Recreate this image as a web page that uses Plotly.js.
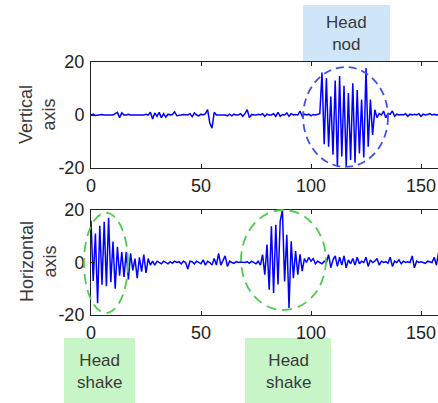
<!DOCTYPE html>
<html>
<head>
<meta charset="utf-8">
<script src="https://cdn.plot.ly/plotly-3.0.1.min.js"></script>
<style>
html,body{margin:0;padding:0;overflow:hidden;background:#fff;width:438px;height:403px;}
#chart{width:470px;height:403px;}
</style>
</head>
<body>
<div id="chart"></div>
<script>
// ---- data ----
var verticalAxis = [
0,0.3,-0.2,0,0,0.2,0,0,0,0,
0,0.5,1,-1,0.8,0,0,0.3,0,0,
0,0.2,0,0,0,0.3,0,1,-1.5,0.8,
-0.5,1,-1,0.5,-0.8,0.3,0,0.2,1.2,-0.3,
0,0,0.2,0,0,0.5,-0.6,0.8,0,-0.3,
0.3,0,0.5,2,-3,-5,1,0,0,0,
0.2,0,-0.3,0.3,-0.3,0.3,0,0,0.5,-0.5,
0.5,2,-1,0.2,0,0,0.3,0,0.5,-0.5,
0.3,0,0,0.5,-0.5,1,-0.5,0.2,0,0.8,
-0.5,0.5,0,0.2,0,1.5,-0.5,0.3,0,0.3,
-0.3,0.2,0,0.3,0.5,16,-11,14,-12,7,
-15,13,-19.5,14.7,-15.7,11,-19.5,8.3,-17,12,
-18,9.4,-14.5,5.8,-16,17.7,-12,5.8,-7.5,2,
-1,0.5,0,1.5,-1,0.5,0.3,1.5,-0.5,0.3,
0,0.2,0,0.5,-0.5,0.3,0,0.3,0,0.5,
-0.5,0.3,0,0.2,0.5,0,0.3,0,0.2,0,
0.3];
var horizontalAxis = [
16,-7,11,-15.5,14,-8.5,15.5,-9,17,-7.5,
8,-10,6,-5,4,-5.5,4,-6.5,3.5,-3,
1.5,-6,2,-3.5,3,-4,1.5,-1,0.5,-1,
0.5,0,-0.5,0.5,0,-0.5,0.3,-0.3,0.5,0,
0.3,-0.5,0.5,0,-2.5,0.5,0.3,-0.5,0.5,0,
-0.5,1,-1,0.5,0,-1,1.5,-1,3.5,-1,
0.5,2.5,-1.5,0.5,0,-0.3,0.3,0,0.2,0,
0,0.3,-0.3,0.5,0,-0.5,0.5,-1,3,-4.6,
6.8,-10.4,13.8,-11.6,14.4,-8.4,15.7,20,-7.2,10.6,
-17.3,8.1,-6,4.4,-4.6,3.1,-3.3,1.5,0,2,
0.5,1.5,-0.5,0.5,0,-0.5,0.5,0,3,-2,
1,2.5,-1.5,2,-1,2.5,-2,1,-0.5,1.5,
-1,2,-0.5,0.5,0,2,-1.5,1,0,0.5,
1.5,-1,0.5,0,0.3,-0.3,2,-1.5,0.5,0,
1,-0.5,0.5,0,0.3,0,2.5,-2,0.5,0,
0.3,0,-0.3,0.5,0.3,0,2,-1,4,-0.5,
0.5];
var xTickVals = [0, 50, 100, 150];
var xTickText = ["0", "50", "100", "150"];
var yTickVals = [-20, 0, 20];
var yTickText = ["-20", "0", "20"];
var yTitles = ["Vertical<br>axis", "Horizontal<br>axis"];
var labelNod = "Head<br>nod";
var labelShake = "Head<br>shake";
// highlighted regions in data units [x0, x1, y0, y1]
var nodRegion = [96.4, 135, -19.6, 18.1];
var shakeRegion1 = [-3.2, 16.8, -19.2, 18.9];
var shakeRegion2 = [68.2, 106.8, -18.1, 20];

// ---- layout helpers ----
var W = 470, H = 403, L = 91, R = 27;
var XR = [0, 160], YR = [-20, 20];
var dom1 = [1 - 168/H, 1 - 62/H];
var dom2 = [1 - 315/H, 1 - 210/H];
function px(X){ return (X - L) / (W - L - R); }
function py(Y){ return 1 - Y / H; }
function dx(x){ return (x - XR[0]) / (XR[1] - XR[0]); }
function dy(y, dom){ return dom[0] + (y - YR[0]) / (YR[1] - YR[0]) * (dom[1] - dom[0]); }

var idx = verticalAxis.map(function(_, i){ return i; });
var idx2 = horizontalAxis.map(function(_, i){ return i; });

var traces = [
  {x: idx, y: verticalAxis, xaxis: 'x', yaxis: 'y', type: 'scatter', mode: 'lines',
   line: {color: '#0000ff', width: 1.5}, hoverinfo: 'skip'},
  {x: idx2, y: horizontalAxis, xaxis: 'x2', yaxis: 'y2', type: 'scatter', mode: 'lines',
   line: {color: '#0000ff', width: 1.5}, hoverinfo: 'skip'}
];

var tickFont = {family: 'Liberation Sans, Arial, sans-serif', size: 18, color: '#222'};
function xax(anchor){
  return {anchor: anchor, domain: [0, 1], range: XR, tickvals: xTickVals, ticktext: xTickText,
    ticks: 'inside', ticklen: 4, tickcolor: '#222', showline: true, linecolor: '#222', linewidth: 1,
    mirror: 'ticks', showgrid: false, zeroline: false, tickfont: tickFont, ticklabelstandoff: 1};
}
function yax(anchor, dom){
  return {anchor: anchor, domain: dom, range: YR, tickvals: yTickVals, ticktext: yTickText,
    ticks: 'inside', ticklen: 4, tickcolor: '#222', showline: true, linecolor: '#222', linewidth: 1,
    mirror: 'ticks', showgrid: false, zeroline: false, tickfont: tickFont, ticklabelstandoff: 2};
}

function ellipse(reg, dom, color, dash){
  return {type: 'circle', xref: 'paper', yref: 'paper',
    x0: dx(reg[0]), x1: dx(reg[1]), y0: dy(reg[2], dom), y1: dy(reg[3], dom),
    line: {color: color, width: 1.8, dash: dash}, layer: 'above'};
}
function box(X0, X1, Y0, Y1, fill){
  return {type: 'rect', xref: 'paper', yref: 'paper', x0: px(X0), x1: px(X1), y0: py(Y1), y1: py(Y0),
    fillcolor: fill, line: {width: 0}, layer: 'below'};
}
var labFont = {family: 'Liberation Sans, Arial, sans-serif', size: 17, color: '#3a3a3a'};
var titleFont = {family: 'Liberation Sans, Arial, sans-serif', size: 18, color: '#3a3a3a'};

var layout = {
  width: W, height: H, margin: {l: L, r: R, t: 0, b: 0},
  paper_bgcolor: '#fff', plot_bgcolor: '#fff', showlegend: false,
  xaxis: xax('y'), yaxis: yax('x', dom1),
  xaxis2: xax('y2'), yaxis2: yax('x2', dom2),
  shapes: [
    box(303, 390, 5, 62, '#cfe5f8'),
    box(64, 135, 338, 403, '#c8f5c8'),
    box(245, 331, 338, 403, '#c8f5c8'),
    ellipse(nodRegion, dom1, '#3f4ff0', '8px,5px'),
    ellipse(shakeRegion1, dom2, '#4ccc4c', '10px,6px'),
    ellipse(shakeRegion2, dom2, '#4ccc4c', '10px,6px')
  ],
  annotations: [
    {xref: 'paper', yref: 'paper', x: px(346.5), y: py(33.5), text: labelNod, showarrow: false,
     font: labFont, xanchor: 'center', yanchor: 'middle'},
    {xref: 'paper', yref: 'paper', x: px(99.5), y: py(371), text: labelShake, showarrow: false,
     font: labFont, xanchor: 'center', yanchor: 'middle'},
    {xref: 'paper', yref: 'paper', x: px(288), y: py(371), text: labelShake, showarrow: false,
     font: labFont, xanchor: 'center', yanchor: 'middle'},
    {xref: 'paper', yref: 'paper', x: px(38), y: py(115), text: yTitles[0], showarrow: false,
     font: titleFont, textangle: -90, xanchor: 'center', yanchor: 'middle'},
    {xref: 'paper', yref: 'paper', x: px(38), y: py(262), text: yTitles[1], showarrow: false,
     font: titleFont, textangle: -90, xanchor: 'center', yanchor: 'middle'}
  ]
};

Plotly.newPlot('chart', traces, layout, {staticPlot: true, displayModeBar: false});
</script>
</body>
</html>
